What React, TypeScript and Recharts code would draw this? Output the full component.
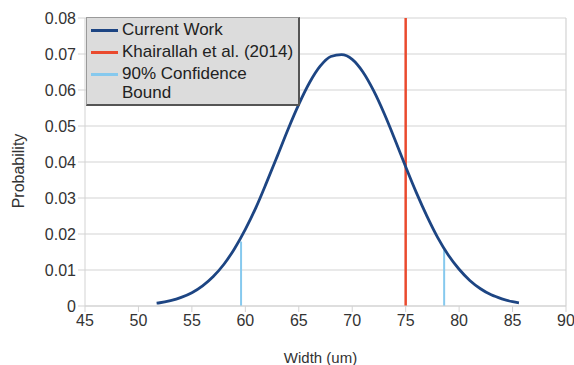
import React from 'react';
import { ComposedChart, Line, XAxis, YAxis, CartesianGrid, ReferenceLine, Label } from 'recharts';

const widths = [51.7, 52, 53, 54, 55, 56, 57, 58, 59, 60, 61, 62, 63, 64, 65, 66, 67, 68, 69, 70, 71, 72, 73, 74, 75, 76, 77, 78, 79, 80, 81, 82, 83, 84, 85, 85.6];
const probabilities = [0.0008, 0.0009, 0.0015, 0.0024, 0.0037, 0.0056, 0.0082, 0.0116, 0.016, 0.0213, 0.0274, 0.0344, 0.0417, 0.0491, 0.056, 0.062, 0.0666, 0.0693, 0.0698, 0.0685, 0.065, 0.0598, 0.0534, 0.0462, 0.0387, 0.0315, 0.0249, 0.019, 0.0141, 0.0102, 0.0071, 0.0048, 0.0031, 0.002, 0.0012, 0.0009];
const khairallahWidth = 75;
const boundWidths = [59.6, 78.6];
const boundHeights = [0.0179, 0.0156];
const xTicks = [45, 50, 55, 60, 65, 70, 75, 80, 85, 90];
const yTicks = [0, 0.01, 0.02, 0.03, 0.04, 0.05, 0.06, 0.07, 0.08];

const curve = widths.map((w, i) => ({ w, p: probabilities[i] }));

const NAVY = '#1d4583';
const RED = '#ea4a2e';
const LIGHTBLUE = '#86c9ee';
const GRID = '#d3d3d3';
const FONT = '"Liberation Sans", Arial, sans-serif';

const legendItems = [
  { color: NAVY, lines: ['Current Work'] },
  { color: RED, lines: ['Khairallah et al. (2014)'] },
  { color: LIGHTBLUE, lines: ['90% Confidence', 'Bound'] },
];

export default function App() {
  return (
    <div style={{ position: 'absolute', left: 0, top: 0, width: 574, height: 365, background: '#fff', fontFamily: FONT }}>
      <ComposedChart width={574} height={365} data={curve} margin={{ top: 18, right: 8, bottom: 0, left: 0 }}>
        <CartesianGrid vertical={false} stroke={GRID} strokeWidth={1.2} />
        <XAxis
          dataKey="w"
          type="number"
          domain={[45, 90]}
          ticks={xTicks}
          interval={0}
          height={59}
          stroke={GRID}
          tickSize={6}
          tickMargin={3}
          tick={{ fill: '#333', fontSize: 16, fontFamily: FONT }}
          tickLine={{ stroke: GRID }}
          allowDataOverflow
        >
          <Label value="Width (um)" position="insideBottom" offset={2} dx={-5} style={{ fill: '#333', fontSize: 15, fontFamily: FONT }} />
        </XAxis>
        <YAxis
          type="number"
          domain={[0, 0.08]}
          ticks={yTicks}
          interval={0}
          width={85}
          stroke={GRID}
          tickSize={7}
          tickFormatter={(v: number) => (v === 0 ? '0' : v.toFixed(2))}
          tick={{ fill: '#333', fontSize: 16, fontFamily: FONT }}
          tickLine={{ stroke: GRID }}
        >
          <Label value="Probability" angle={-90} position="insideLeft" offset={18} dy={9} style={{ fill: '#333', fontSize: 16, fontFamily: FONT, textAnchor: 'middle' }} />
        </YAxis>
        <ReferenceLine x={90} stroke={GRID} strokeWidth={1.2} />
        <ReferenceLine x={khairallahWidth} stroke={RED} strokeWidth={2.5} />
        {boundWidths.map((bw, i) => (
          <ReferenceLine
            key={bw}
            segment={[{ x: bw, y: 0 }, { x: bw, y: boundHeights[i] }]}
            stroke={LIGHTBLUE}
            strokeWidth={2}
          />
        ))}
        <Line type="monotone" dataKey="p" stroke={NAVY} strokeWidth={2.8} dot={false} isAnimationActive={false} />
      </ComposedChart>
      <div
        style={{
          position: 'absolute',
          left: 86,
          top: 17,
          width: 214,
          height: 89,
          background: '#dcdcdc',
          border: '1px solid #9a9a9a',
          borderRightColor: '#555',
          borderBottomColor: '#555',
          borderRightWidth: 2,
          borderBottomWidth: 2,
          boxSizing: 'border-box',
          padding: '2px 0 0 4px',
          fontSize: 17,
          color: '#222',
          lineHeight: '19px',
        }}
      >
        {legendItems.map((it) => (
          <div key={it.lines[0]} style={{ display: 'flex', alignItems: 'flex-start', marginBottom: 3 }}>
            <div style={{ width: 27, height: 3, background: it.color, marginTop: 9, marginRight: 4, flexShrink: 0 }} />
            <div>
              {it.lines.map((l) => (
                <div key={l}>{l}</div>
              ))}
            </div>
          </div>
        ))}
      </div>
    </div>
  );
}
